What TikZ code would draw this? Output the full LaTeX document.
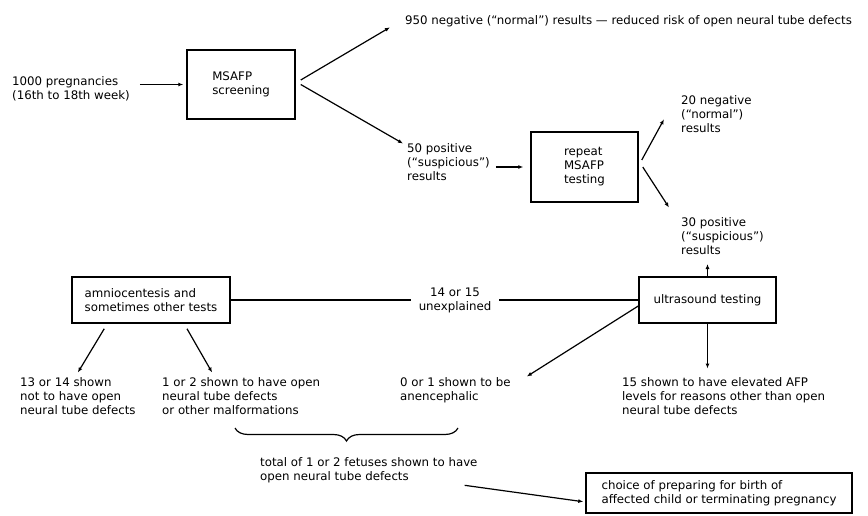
\documentclass[tikz,border=0pt]{standalone}
\usepackage{fontspec}
\setmainfont{DejaVu Sans}
\usetikzlibrary{arrows.meta,decorations.pathreplacing}

\begin{document}
\begin{tikzpicture}[x=1pt,y=-1pt,font=\fontsize{11.8}{14}\selectfont,
  my box/.style={draw, rectangle, line width=1.5pt, align=left, inner sep=0pt},
  my text/.style={anchor=north west, align=left, inner sep=0pt},
  my line/.style={line width=1.2pt},
  my arrow/.style={my line, -{Latex[length=5pt,width=4pt]}}]
\useasboundingbox (0,0) rectangle (868,516);

% boxes
\node[my box, minimum width=108pt, minimum height=69pt] (msafp) at (241,84.5) {MSAFP\\screening};
\node[my box, minimum width=107pt, minimum height=70pt] (repeat) at (584.5,167) {repeat\\MSAFP\\testing};
\node[my box, minimum width=137pt, minimum height=46pt] (ultra) at (707.5,300) {ultrasound testing};
\node[my box, minimum width=158pt, minimum height=46pt] (amnio) at (151,300) {amniocentesis and\\sometimes other tests};
\node[my box, minimum width=266pt, minimum height=40pt] (choice) at (719,493) {choice of preparing for birth of\\affected child or terminating pregnancy};

% texts
\node[my text] (preg) at (12,76.5) {1000 pregnancies\\(16th to 18th week)};
\node[my text] (neg950) at (405,15.5) {950 negative (``normal'') results --- reduced risk of open neural tube defects};
\node[my text] (pos50) at (407,143.5) {50 positive\\(``suspicious'')\\results};
\node[my text] (neg20) at (681,95.5) {20 negative\\(``normal'')\\results};
\node[my text] (pos30) at (681,217.5) {30 positive\\(``suspicious'')\\results};
\node[align=center, inner xsep=8pt, inner ysep=0pt] (unexpl) at (455,300) {14 or 15\\unexplained};
\node[my text] (not13) at (20,377.5) {13 or 14 shown\\not to have open\\neural tube defects};
\node[my text] (def12) at (162,377.5) {1 or 2 shown to have open\\neural tube defects\\or other malformations};
\node[my text] (anen) at (400,377.5) {0 or 1 shown to be\\anencephalic};
\node[my text] (elev15) at (622,377.5) {15 shown to have elevated AFP\\levels for reasons other than open\\neural tube defects};
\node[my text] (total) at (260,457.5) {total of 1 or 2 fetuses shown to have\\open neural tube defects};

% connectors
\draw[my arrow, shorten <=10pt, shorten >=3pt] (preg.east |- msafp.west) -- (msafp.west);
\draw[my arrow] ([xshift=5pt,yshift=4.5pt]msafp.east) -- ([xshift=-15pt]neg950.south west);
\draw[my arrow] ([xshift=5pt]msafp.east) -- ([xshift=-4pt]pos50.north west);
\draw[my arrow, shorten <=6pt, shorten >=7pt] (pos50.east |- repeat.west) -- (repeat.west);
\draw[my arrow] ([xshift=3pt,yshift=7pt]repeat.east) -- ([xshift=-17pt,yshift=-5pt]neg20.west);
\draw[my arrow] ([xshift=4pt]repeat.east) -- ([xshift=-12pt,yshift=10pt]pos30.north west);
\draw[my arrow, shorten >=9pt] (ultra.north) -- (ultra.north |- pos30.south);
\draw[my line] (amnio.east) -- (unexpl.west);
\draw[my line] (unexpl.east) -- (ultra.west);
\draw[my arrow] ([yshift=-6pt]ultra.west) -- ([xshift=16pt,yshift=1pt]anen.north east);
\draw[my arrow, shorten >=9pt] (ultra.south) -- (ultra.south |- elev15.north);
\draw[my arrow] ([xshift=33pt,yshift=-5pt]amnio.south west) -- ([yshift=5pt]not13.north);
\draw[my arrow] ([xshift=36pt,yshift=-5pt]amnio.south) -- ([xshift=-29pt,yshift=5pt]def12.north);
%\draw[my arrow] (amnio) -- (def12);
\coordinate (brace left) at (235,428);
\coordinate (brace right) at (458,428);
\draw[my line, decorate, decoration={brace, mirror, amplitude=13pt}] (brace left) -- (brace right);
\draw[my arrow, shorten >=2pt] ([xshift=-13pt,yshift=-2pt]total.south east) -- ([yshift=-9pt]choice.west);
\end{tikzpicture}
\end{document}
